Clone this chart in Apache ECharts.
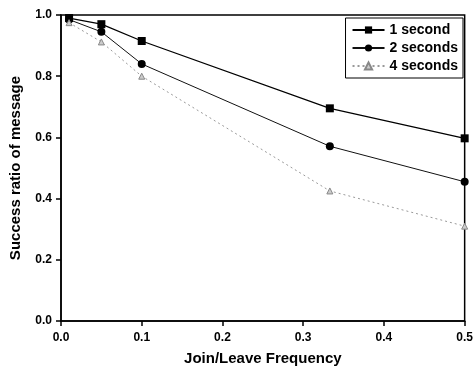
<!DOCTYPE html>
<html>
<head>
<meta charset="utf-8">
<script src="https://cdn.jsdelivr.net/npm/echarts@6/dist/echarts.min.js"></script>
<style>
  html, body { margin: 0; padding: 0; background: #fff; }
  #chart { width: 476px; height: 371px; }
</style>
</head>
<body>
<div id="chart"></div>
<script>
// join/leave frequency
const freq = [0.01, 0.05, 0.1, 0.333, 0.5];
const oneSecond = [0.99, 0.97, 0.915, 0.695, 0.597];
const twoSeconds = [0.985, 0.945, 0.84, 0.571, 0.455];
const fourSeconds = [0.975, 0.912, 0.80, 0.425, 0.31];
const seriesNames = ['1 second', '2 seconds', '4 seconds'];

const pairs = (ys) => freq.map((x, i) => [x, ys[i]]);

const chart = echarts.init(document.getElementById('chart'));
const labelStyle = {
    color: '#000',
    fontFamily: 'Liberation Sans, Arial',
    fontSize: 12,
    fontWeight: 'bold'
};
const nameStyle = {
    color: '#000',
    fontFamily: 'Liberation Sans, Arial',
    fontSize: 15,
    fontWeight: 'bold'
};

chart.setOption({
    animation: false,
    grid: {
        left: 55,
        right: 6,
        top: 15,
        bottom: 47,
        show: true,
        borderColor: '#000',
        borderWidth: 1.5
    },
    legend: {
        right: 13,
        top: 18,
        orient: 'vertical',
        backgroundColor: '#fff',
        borderColor: '#000',
        borderWidth: 1,
        borderRadius: 0,
        padding: [5, 5, 5, 6],
        itemGap: 4,
        itemWidth: 32,
        itemHeight: 9,
        textStyle: {
            color: '#000',
            fontFamily: 'Liberation Sans, Arial',
            fontSize: 14,
            fontWeight: 'bold'
        },
        data: seriesNames
    },
    xAxis: {
        type: 'value',
        min: 0,
        max: 0.5,
        interval: 0.1,
        name: 'Join/Leave Frequency',
        nameLocation: 'middle',
        nameGap: 30,
        nameTextStyle: nameStyle,
        axisLine: { lineStyle: { color: '#000', width: 1.5 } },
        axisTick: { inside: false, length: 5, lineStyle: { color: '#000', width: 1.5 } },
        axisLabel: Object.assign({ margin: 11, formatter: (v) => v.toFixed(1) }, labelStyle),
        splitLine: { show: false }
    },
    yAxis: {
        type: 'value',
        min: 0,
        max: 1,
        interval: 0.2,
        name: 'Success ratio of message',
        nameLocation: 'middle',
        nameGap: 38,
        nameTextStyle: nameStyle,
        axisLine: { show: true, lineStyle: { color: '#000', width: 1.5 } },
        axisTick: { show: true, inside: false, length: 5, lineStyle: { color: '#000', width: 1.5 } },
        axisLabel: Object.assign({ margin: 9, formatter: (v) => v.toFixed(1) }, labelStyle),
        splitLine: { show: false }
    },
    series: [{
        name: seriesNames[0],
        type: 'line',
        data: pairs(oneSecond),
        symbol: 'rect',
        symbolSize: 8,
        lineStyle: { color: '#000', width: 1.3 },
        itemStyle: { color: '#000' }
    }, {
        name: seriesNames[1],
        type: 'line',
        data: pairs(twoSeconds),
        symbol: 'circle',
        symbolSize: 8,
        lineStyle: { color: '#111', width: 1 },
        itemStyle: { color: '#000' }
    }, {
        name: seriesNames[2],
        type: 'line',
        data: pairs(fourSeconds),
        symbol: 'triangle',
        symbolSize: 6,
        lineStyle: { color: '#999', width: 1, type: [2, 3] },
        itemStyle: { color: '#ccc', borderColor: '#888', borderWidth: 1 }
    }]
});
</script>
</body>
</html>
